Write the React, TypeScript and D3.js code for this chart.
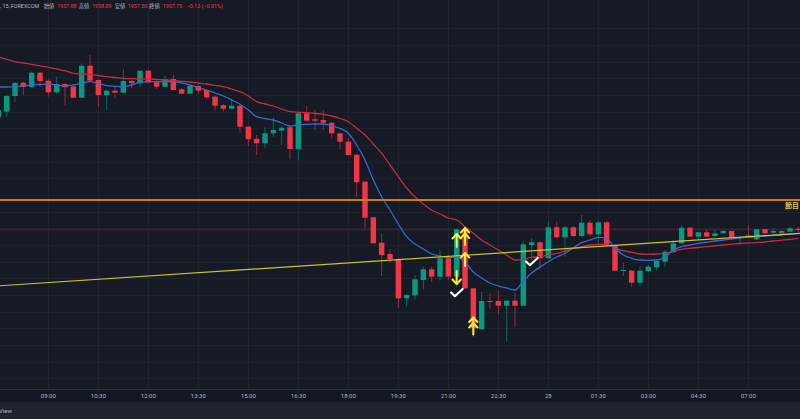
import React from "react";
import * as d3 from "d3";

// ---- data (XAUUSD 15m, FOREXCOM) ----
const FIRST_INDEX = -1;
const opens = [1969.05,1969.58,1971.15,1972.48,1972.05,1973.48,1972.68,1971.52,1972.35,1972.10,1970.98,1974.18,1972.75,1971.22,1971.68,1971.48,1972.65,1972.42,1973.68,1972.52,1972.08,1972.85,1971.82,1971.38,1972.15,1971.75,1971.08,1970.22,1969.88,1970.18,1968.08,1966.88,1966.42,1967.42,1967.68,1968.02,1965.85,1969.42,1968.82,1968.75,1968.48,1967.42,1966.58,1965.28,1962.58,1959.02,1956.48,1955.35,1954.85,1950.92,1951.22,1952.75,1953.82,1953.08,1954.92,1953.08,1957.82,1951.92,1947.82,1950.65,1950.65,1950.18,1950.68,1950.18,1956.25,1956.52,1954.92,1958.02,1957.02,1958.02,1957.15,1958.48,1957.32,1958.52,1956.25,1953.68,1953.68,1952.48,1953.65,1954.02,1954.58,1955.52,1956.42,1957.98,1957.08,1957.52,1957.15,1957.42,1957.65,1957.02,1957.20,1956.82,1957.82,1957.48,1957.42,1957.58,1957.88];
const highs = [1969.95,1971.25,1972.55,1972.55,1973.60,1973.55,1972.82,1973.08,1972.40,1972.15,1974.40,1975.25,1972.85,1971.75,1972.08,1973.82,1972.75,1973.75,1973.75,1972.75,1973.18,1973.25,1971.95,1972.25,1972.25,1971.80,1971.15,1970.35,1970.92,1970.25,1968.15,1967.25,1968.02,1969.02,1968.15,1968.15,1969.55,1970.15,1969.82,1969.75,1968.55,1967.45,1966.95,1965.35,1962.65,1959.05,1957.42,1955.85,1954.95,1951.35,1953.25,1954.08,1954.08,1955.75,1955.25,1957.85,1957.95,1951.95,1951.58,1951.42,1951.68,1950.75,1951.42,1956.58,1956.92,1956.65,1958.58,1958.58,1958.15,1958.15,1959.25,1958.75,1958.65,1958.65,1956.35,1954.48,1953.75,1954.08,1954.25,1954.75,1955.75,1956.75,1958.25,1958.05,1957.55,1957.75,1957.75,1957.75,1957.70,1957.15,1958.25,1957.85,1957.85,1957.92,1957.75,1958.08,1958.09];
const lows = [1968.75,1969.05,1970.55,1971.25,1971.95,1972.05,1971.08,1971.35,1970.18,1970.95,1970.95,1972.65,1970.05,1969.75,1970.92,1971.45,1971.92,1972.02,1972.45,1971.85,1972.05,1971.70,1971.35,1971.35,1971.35,1970.82,1969.68,1969.58,1969.85,1967.48,1966.15,1965.25,1965.92,1967.08,1966.25,1964.82,1964.68,1968.65,1967.75,1967.75,1966.92,1965.82,1965.20,1961.08,1957.92,1956.35,1953.15,1954.45,1949.95,1950.08,1950.82,1951.82,1952.58,1952.68,1952.75,1952.08,1951.85,1947.08,1947.75,1949.82,1949.32,1946.58,1948.02,1950.15,1954.75,1953.82,1954.90,1956.95,1955.08,1957.05,1957.05,1957.08,1956.48,1956.15,1953.65,1953.15,1952.08,1952.08,1953.55,1953.68,1954.08,1955.45,1956.35,1957.05,1956.75,1957.05,1957.05,1957.35,1956.85,1956.25,1957.08,1956.75,1957.15,1957.35,1957.35,1957.55,1957.50];
const closes = [1969.75,1971.15,1972.45,1972.05,1973.48,1972.65,1971.52,1972.35,1972.02,1970.98,1974.18,1972.68,1971.25,1971.68,1971.48,1972.65,1972.42,1973.68,1972.52,1972.08,1972.85,1971.75,1971.38,1972.15,1971.68,1971.02,1970.18,1969.88,1970.18,1968.08,1966.85,1966.42,1967.42,1967.75,1967.98,1965.85,1969.42,1968.68,1968.68,1968.48,1967.42,1966.58,1965.25,1962.52,1958.98,1956.42,1955.25,1954.85,1950.92,1951.25,1952.82,1953.82,1953.08,1954.92,1953.08,1957.82,1951.92,1947.92,1950.65,1950.58,1950.18,1950.68,1950.18,1956.32,1956.52,1954.92,1958.02,1957.02,1958.02,1957.15,1958.48,1957.32,1958.52,1956.25,1953.68,1953.75,1952.48,1953.68,1954.08,1954.65,1955.58,1956.42,1957.98,1957.08,1957.52,1957.08,1957.42,1957.65,1956.92,1956.92,1957.15,1957.82,1957.42,1957.65,1957.65,1957.92,1957.75];
const maFast = [1972.05,1972.05,1972.08,1972.15,1972.25,1972.30,1972.35,1972.25,1972.15,1972.25,1972.42,1972.58,1972.40,1972.18,1972.12,1972.08,1972.25,1972.52,1972.58,1972.58,1972.58,1972.58,1972.45,1972.25,1972.00,1971.75,1971.45,1971.15,1970.75,1970.32,1969.75,1969.08,1968.90,1968.75,1968.45,1968.15,1968.25,1968.32,1968.35,1968.35,1968.15,1967.92,1967.42,1966.25,1964.75,1962.75,1961.08,1959.75,1958.35,1957.08,1956.35,1955.85,1955.35,1955.15,1955.00,1955.05,1954.55,1953.55,1952.95,1952.45,1952.15,1951.95,1951.75,1952.65,1953.45,1954.05,1954.58,1955.05,1955.42,1955.95,1956.48,1956.75,1957.02,1956.92,1955.92,1955.25,1954.92,1954.75,1954.72,1954.75,1955.02,1955.75,1956.08,1956.25,1956.42,1956.55,1956.65,1956.75,1956.85,1956.95,1957.02,1957.08,1957.15,1957.20,1957.25,1957.35,1957.42];
const maSlow = [1975.05,1974.82,1974.58,1974.45,1974.32,1974.17,1974.02,1973.85,1973.68,1973.42,1973.35,1973.32,1973.20,1973.08,1973.00,1972.92,1972.88,1972.85,1972.83,1972.82,1972.75,1972.68,1972.62,1972.55,1972.45,1972.35,1972.22,1972.08,1971.85,1971.58,1971.15,1970.58,1970.35,1970.15,1969.85,1969.58,1969.52,1969.48,1969.40,1969.32,1969.15,1968.90,1968.58,1967.92,1967.25,1966.35,1965.42,1964.25,1963.08,1961.95,1961.05,1960.35,1959.75,1959.35,1958.95,1958.75,1958.08,1957.42,1956.75,1956.25,1955.75,1955.25,1954.75,1954.82,1955.02,1955.08,1955.25,1955.42,1955.65,1955.88,1956.08,1956.25,1956.32,1956.32,1955.92,1955.68,1955.52,1955.35,1955.32,1955.35,1955.42,1955.65,1955.82,1955.92,1956.00,1956.08,1956.15,1956.25,1956.33,1956.42,1956.45,1956.48,1956.55,1956.65,1956.73,1956.82,1956.92];

const tickIndex = [5, 11, 17, 23, 29, 35, 41, 47, 53, 59, 65, 71, 77, 83, 89];
const tickLabels = ["09:00","10:30","12:00","13:30","15:00","16:30","18:00","19:30","21:00","22:30","28","01:30","03:00","04:30","07:00"];

// drawings
const keyLevel = 1960.75;      // orange horizontal
const redLevel = 1957.80;      // dark red horizontal
const trendIdx = [0, 95];
const trendPrice = [1952.22, 1957.41];
const upArrowIdx = [54, 55, 55, 56];
const upArrowPrice = [1957.35, 1957.95, 1955.45, 1949.0];
const upArrowDouble = [false, true, false, true];
const downArrowIdx = [54];
const downArrowPrice = [1952.35];
const checkIdx = [54, 63];
const checkPrice = [1951.45, 1954.55];

const headerLabels = ["始値", "高値", "安値", "終値"];
const headerValues = ["1957.88", "1958.09", "1957.50", "1957.75"];

const UP = "#089981";
const DOWN = "#f23645";
const FONT = "Roboto, 'Noto Sans CJK JP', sans-serif";

export default function App() {
  const W = 800, H = 419, plotH = 389;
  const x = d3.scaleLinear().domain([0, 95]).range([6.67, 798.33]);
  const y = d3.scaleLinear().domain([1980.75, 1941.85]).range([0, plotH]);
  const bars = opens.map((o, j) => ({ i: FIRST_INDEX + j, o, h: highs[j], l: lows[j], c: closes[j] }));
  const line = d3.line<[number, number]>().x(d => x(d[0])).y(d => y(d[1])).curve(d3.curveMonotoneX);
  const fastPts = maFast.map((v, j) => [FIRST_INDEX + j, v] as [number, number]);
  const slowPts = maSlow.map((v, j) => [FIRST_INDEX + j, v] as [number, number]);
  const gridPrices = d3.range(1977.92, 1941.85, -5 / 3);
  const slope = (trendPrice[1] - trendPrice[0]) / (trendIdx[1] - trendIdx[0]);
  const tAt = (i: number) => trendPrice[0] + slope * (i - trendIdx[0]);
  const iL = x.invert(0), iR = x.invert(W);
  const bw = 5.4;

  const headerX = [43.7, 78.7, 114.7, 149];
  const valueX = [57, 92, 127.7, 162.7];

  return (
    <svg width={W} height={H} style={{ position: "fixed", left: 0, top: 0, display: "block" }} fontFamily={FONT}>
      <rect x={0} y={0} width={W} height={plotH} fill="#161a25" />
      <rect x={0} y={plotH} width={W} height={13} fill="#131722" />
      <rect x={0} y={402} width={W} height={17} fill="#1e222d" />
      <line x1={0} x2={W} y1={plotH + 0.5} y2={plotH + 0.5} stroke="#2a2e39" />
      {/* grid */}
      {gridPrices.map((p, k) => (
        <line key={"h" + k} x1={0} x2={W} y1={Math.round(y(p)) + 0.5} y2={Math.round(y(p)) + 0.5} stroke="#1d212c" />
      ))}
      {tickIndex.map((t, k) => (
        <line key={"v" + k} x1={Math.round(x(t)) + 0.5} x2={Math.round(x(t)) + 0.5} y1={0} y2={plotH} stroke="#1f2330" />
      ))}
      {/* horizontal drawings */}
      <line x1={0} x2={W} y1={y(redLevel)} y2={y(redLevel)} stroke="#4a1e2a" strokeWidth={1.6} />
      {/* candles */}
      {bars.map(b => {
        const col = b.c >= b.o ? UP : DOWN;
        const cx = x(b.i);
        const top = y(Math.max(b.o, b.c));
        const bh = Math.max(1, Math.abs(y(b.o) - y(b.c)));
        return (
          <g key={b.i}>
            <line x1={cx} x2={cx} y1={y(b.h)} y2={y(b.l)} stroke={col} strokeOpacity={0.6} strokeWidth={1} />
            <rect x={cx - bw / 2} y={top} width={bw} height={bh} fill={col} />
          </g>
        );
      })}
      {/* moving averages */}
      <path d={line(slowPts) || ""} fill="none" stroke="#c62b3f" strokeWidth={1.3} />
      <path d={line(fastPts) || ""} fill="none" stroke="#3567d6" strokeWidth={1.3} />
      {/* key level + trend line */}
      <line x1={0} x2={W} y1={y(keyLevel)} y2={y(keyLevel)} stroke="#c47f1a" strokeWidth={2} />
      <line x1={0} x2={W} y1={y(tAt(iL))} y2={y(tAt(iR))} stroke="#cfc12c" strokeWidth={1.2} />
      <text x={799} y={y(keyLevel) + 8} textAnchor="end" fontSize={7} fontWeight="bold" fill="#e0c85a">節目</text>
      {/* arrows */}
      {upArrowIdx.map((ai, k) => {
        const cx = x(ai), ty = y(upArrowPrice[k]);
        const len = upArrowDouble[k] ? 17 : 13;
        return (
          <g key={"ua" + k} stroke="#ffeb3b" strokeWidth={2} fill="none" strokeLinecap="round" strokeLinejoin="round">
            <line x1={cx} x2={cx} y1={ty} y2={ty + len} />
            <path d={`M${cx - 4.2},${ty + 4.5} L${cx},${ty} L${cx + 4.2},${ty + 4.5}`} />
            {upArrowDouble[k] && <path d={`M${cx - 4.2},${ty + 10} L${cx},${ty + 5.5} L${cx + 4.2},${ty + 10}`} />}
          </g>
        );
      })}
      {downArrowIdx.map((ai, k) => {
        const cx = x(ai), by = y(downArrowPrice[k]);
        return (
          <g key={"da" + k} stroke="#ffeb3b" strokeWidth={2} fill="none" strokeLinecap="round" strokeLinejoin="round">
            <line x1={cx} x2={cx} y1={by - 13} y2={by} />
            <path d={`M${cx - 4.2},${by - 4.5} L${cx},${by} L${cx + 4.2},${by - 4.5}`} />
          </g>
        );
      })}
      {checkIdx.map((ci, k) => {
        const cx = x(ci), cy = y(checkPrice[k]);
        return (
          <path key={"ck" + k} d={`M${cx - 5.5},${cy - 0.5} L${cx - 1.8},${cy + 3.2} L${cx + 6},${cy - 4}`}
            stroke="#ffffff" strokeWidth={2.2} fill="none" strokeLinecap="round" strokeLinejoin="round" />
        );
      })}
      {/* header */}
      <g fontSize={5.4}>
        <text x={0} y={8} fill="#b2b5be">, 15, FOREXCOM</text>
        {headerLabels.map((t, k) => (
          <text key={"hl" + k} x={headerX[k]} y={8} fill="#b2b5be">{t}</text>
        ))}
        {headerValues.map((t, k) => (
          <text key={"hv" + k} x={valueX[k]} y={8} fill={DOWN}>{t}</text>
        ))}
        <text x={186.7} y={8} fill={DOWN}>−0.13 (−0.01%)</text>
      </g>
      {/* time axis */}
      {tickIndex.map((t, k) => (
        <text key={"t" + k} x={x(t)} y={398} textAnchor="middle" fontSize={6} fill="#b2b5be">{tickLabels[k]}</text>
      ))}
      <text x={-1} y={413} fontSize={6} fill="#b2b5be">View</text>
    </svg>
  );
}
